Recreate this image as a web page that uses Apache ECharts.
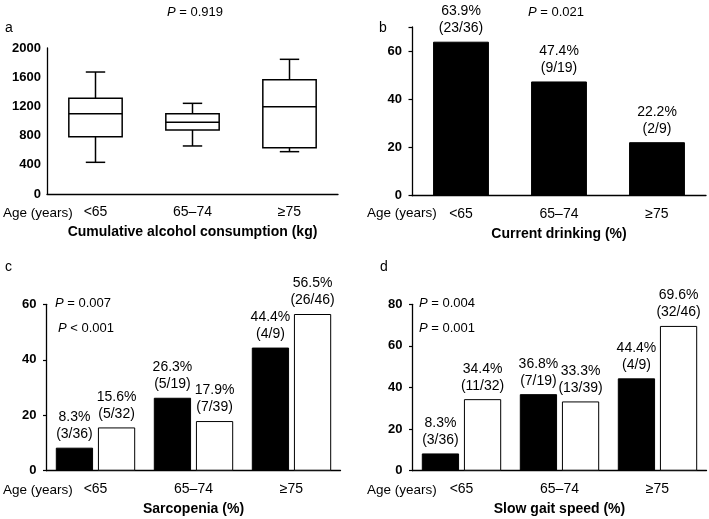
<!DOCTYPE html>
<html><head><meta charset="utf-8">
<script src="https://cdn.jsdelivr.net/npm/echarts@6/dist/echarts.min.js"></script>
<style>html,body{margin:0;padding:0;background:#fff}#c{width:709px;height:519px}</style>
</head><body><div id="c"></div>
<script>
const categories = ['<65', '65–74', '≥75'];
// boxplot stats: [min, Q1, median, Q3, max]
const boxStats = [
  [434, 785, 1100, 1311, 1671],
  [658, 877, 982, 1100, 1242],
  [580, 634, 1196, 1566, 1845]
];
const drinkValues = [63.9, 47.4, 22.2];
const drinkCounts = ['23/36', '9/19', '2/9'];
const sarcBlack = [8.3, 26.3, 44.4];
const sarcBlackCounts = ['3/36', '5/19', '4/9'];
const sarcWhite = [15.6, 17.9, 56.5];
const sarcWhiteCounts = ['5/32', '7/39', '26/46'];
const gaitBlack = [8.3, 36.8, 44.4];
const gaitBlackCounts = ['3/36', '7/19', '4/9'];
const gaitWhite = [34.4, 33.3, 69.6];
const gaitWhiteCounts = ['11/32', '13/39', '32/46'];
const yTicksA = {min: 0, max: 2000, interval: 400};
const yTicksB = {min: 0, max: 70, interval: 20};
const yTicksC = {min: 0, max: 60, interval: 20};
const yTicksD = {min: 0, max: 80, interval: 20};

const FONT = '"Liberation Sans", Arial, sans-serif';
const chart = echarts.init(document.getElementById('c'), null, {renderer: 'canvas'});

function xAx(gi, name) {
  return {
    gridIndex: gi, type: 'category', data: categories,
    axisTick: {show: false},
    axisLine: {lineStyle: {color: '#000', width: 1.3}},
    axisLabel: {color: '#000', fontSize: 14, margin: 11, fontFamily: FONT},
    name: name, nameLocation: 'middle', nameGap: 31,
    nameTextStyle: {color: '#000', fontSize: 14, fontWeight: 'bold', fontFamily: FONT}
  };
}
function yAx(gi, t, ticks) {
  return {
    gridIndex: gi, type: 'value', min: t.min, max: t.max, interval: t.interval,
    splitLine: {show: false},
    axisTick: {show: ticks, length: 3.5, lineStyle: {color: '#000', width: 1.2}},
    axisLine: {show: true, lineStyle: {color: '#000', width: 1.3}},
    axisLabel: {color: '#000', fontSize: 13, fontWeight: 'bold', margin: ticks ? 10 : 6, fontFamily: FONT,
      formatter: v => (v % t.interval === 0 ? String(v) : '')}
  };
}
function lbl(counts) {
  return {
    show: true, position: 'top', distance: 5, color: '#000', fontSize: 14, lineHeight: 17,
    fontFamily: FONT,
    formatter: p => p.value.toFixed(1) + '%\n(' + counts[p.dataIndex] + ')'
  };
}
function barS(xi, data, counts, color, extra) {
  return Object.assign({
    type: 'bar', xAxisIndex: xi, yAxisIndex: xi, data: data,
    itemStyle: {color: color, borderColor: '#000', borderWidth: 1},
    label: lbl(counts), silent: true, animation: false
  }, extra || {});
}
function txt(x, y, text, opts) {
  return {
    type: 'text', x: x, y: y, silent: true,
    style: Object.assign({text: text, fill: '#000', font: '13.5px ' + FONT, textVerticalAlign: 'middle'}, opts || {})
  };
}
function ptxt(x, y, rest, align) {
  return {
    type: 'text', x: x, y: y, silent: true,
    style: {
      text: '{i|P}{n|' + rest + '}', textAlign: align || 'left', textVerticalAlign: 'middle',
      rich: {
        i: {fontStyle: 'italic', fontSize: 13, fontFamily: FONT, fill: '#000'},
        n: {fontSize: 13, fontFamily: FONT, fill: '#000'}
      }
    }
  };
}

const option = {
  animation: false,
  backgroundColor: '#fff',
  grid: [
    {left: 47, top: 48, width: 291, height: 146},
    {left: 412, top: 27, width: 294, height: 168.7},
    {left: 46.5, top: 304.3, width: 294, height: 166.4},
    {left: 412.5, top: 304.3, width: 294, height: 166.4}
  ],
  xAxis: [
    xAx(0, 'Cumulative alcohol consumption (kg)'),
    xAx(1, 'Current drinking (%)'),
    xAx(2, 'Sarcopenia (%)'),
    xAx(3, 'Slow gait speed (%)')
  ],
  yAxis: [yAx(0, yTicksA, false), yAx(1, yTicksB, true), yAx(2, yTicksC, true), yAx(3, yTicksD, true)],
  series: [
    {
      type: 'custom', xAxisIndex: 0, yAxisIndex: 0, silent: true,
      data: boxStats.map((s, i) => [i].concat(s)),
      encode: {x: 0, y: [1, 2, 3, 4, 5]},
      renderItem: function (params, api) {
        const idx = api.value(0);
        const cx = api.coord([idx, 0])[0];
        const band = api.size([1, 0])[0];
        const bw = band * 0.55, cw = band * 0.2;
        const yMin = api.coord([idx, api.value(1)])[1];
        const yQ1 = api.coord([idx, api.value(2)])[1];
        const yMed = api.coord([idx, api.value(3)])[1];
        const yQ3 = api.coord([idx, api.value(4)])[1];
        const yMax = api.coord([idx, api.value(5)])[1];
        const st = {stroke: '#000', lineWidth: 1.5, fill: null};
        return {
          type: 'group',
          children: [
            {type: 'line', shape: {x1: cx, y1: yMax, x2: cx, y2: yQ3}, style: st},
            {type: 'line', shape: {x1: cx, y1: yQ1, x2: cx, y2: yMin}, style: st},
            {type: 'line', shape: {x1: cx - cw / 2, y1: yMax, x2: cx + cw / 2, y2: yMax}, style: st},
            {type: 'line', shape: {x1: cx - cw / 2, y1: yMin, x2: cx + cw / 2, y2: yMin}, style: st},
            {type: 'rect', shape: {x: cx - bw / 2, y: yQ3, width: bw, height: yQ1 - yQ3},
              style: {stroke: '#000', lineWidth: 1.5, fill: '#fff'}},
            {type: 'line', shape: {x1: cx - bw / 2, y1: yMed, x2: cx + bw / 2, y2: yMed}, style: st}
          ]
        };
      }
    },
    barS(1, drinkValues, drinkCounts, '#000', {barWidth: '57%'}),
    barS(2, sarcBlack, sarcBlackCounts, '#000', {barGap: '13%', barCategoryGap: '19%'}),
    barS(2, sarcWhite, sarcWhiteCounts, '#fff', {barGap: '13%', barCategoryGap: '19%'}),
    barS(3, gaitBlack, gaitBlackCounts, '#000', {barGap: '13%', barCategoryGap: '19%'}),
    barS(3, gaitWhite, gaitWhiteCounts, '#fff', {barGap: '13%', barCategoryGap: '19%'})
  ],
  graphic: [
    txt(5, 28, 'a', {font: '14px ' + FONT}),
    txt(379, 28, 'b', {font: '14px ' + FONT}),
    txt(5, 267, 'c', {font: '14px ' + FONT}),
    txt(380, 267, 'd', {font: '14px ' + FONT}),
    ptxt(195, 12, ' = 0.919', 'center'),
    ptxt(556, 12, ' = 0.021', 'center'),
    ptxt(55, 303, ' = 0.007'),
    ptxt(58, 328, ' < 0.001'),
    ptxt(419, 303, ' = 0.004'),
    ptxt(419, 328, ' = 0.001'),
    txt(3, 213, 'Age (years)'),
    txt(367, 213, 'Age (years)'),
    txt(3, 490, 'Age (years)'),
    txt(367, 490, 'Age (years)')
  ]
};
chart.setOption(option);
</script>
</body></html>
